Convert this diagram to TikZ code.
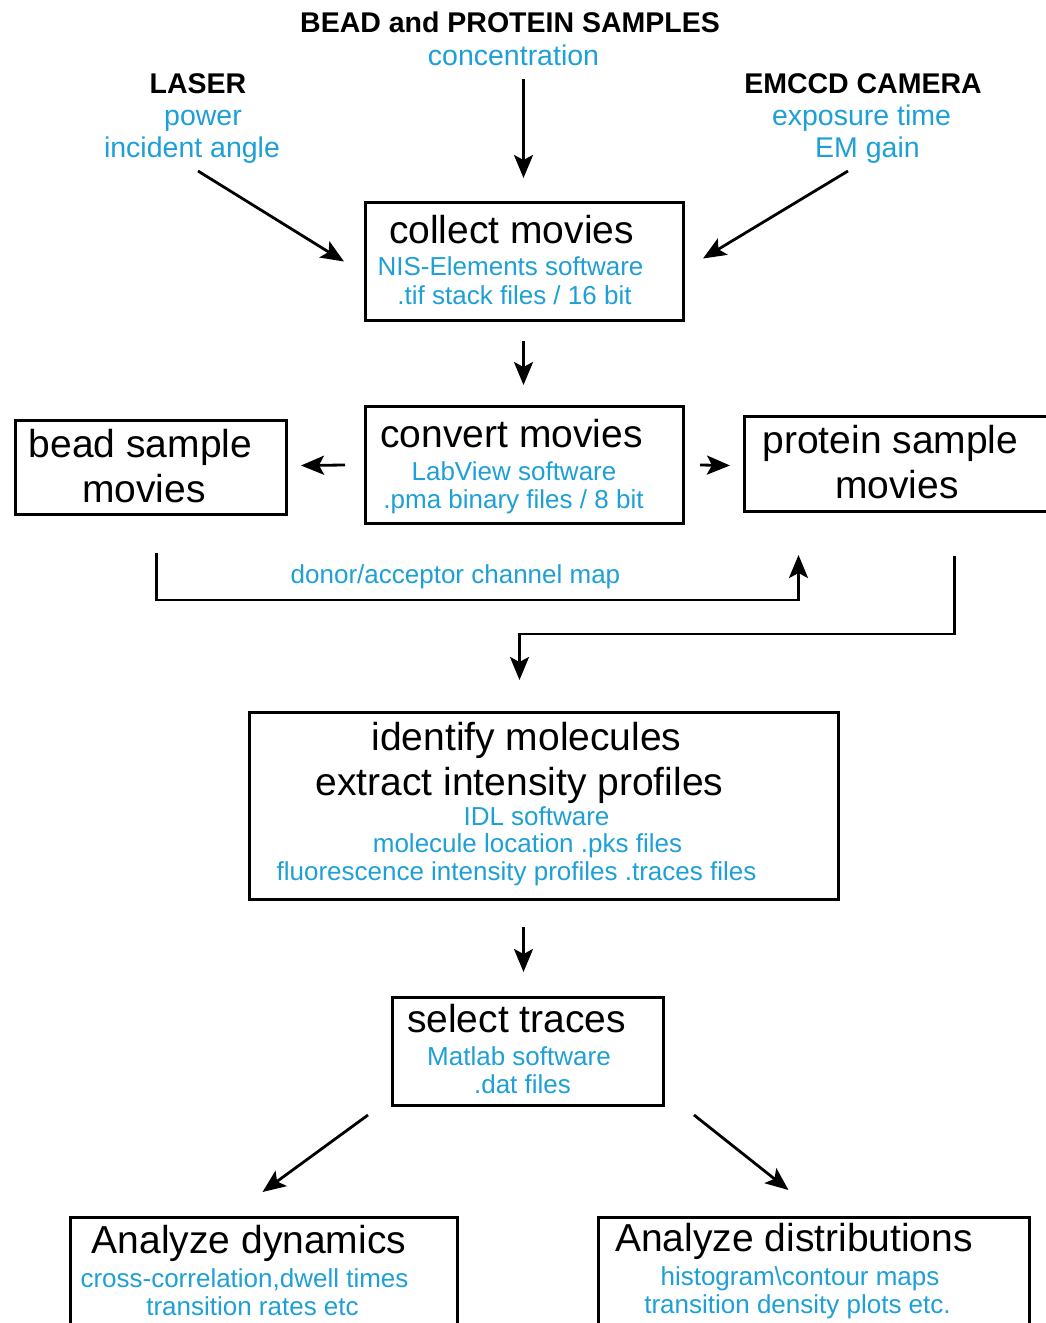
\documentclass[tikz,border=0pt]{standalone}
\usepackage{fontspec}
\setmainfont{Liberation Sans}
\usetikzlibrary{arrows.meta,calc}
\definecolor{cyanblue}{RGB}{30,160,215}
\begin{document}
\begin{tikzpicture}[x=1pt,y=-1pt,
  box/.style={draw, line width=3pt, anchor=north west, inner sep=0pt},
  lbl/.style={anchor=base, inner sep=0pt},
  big/.style={lbl, font=\fontsize{39}{39}\selectfont},
  small/.style={lbl, text=cyanblue, font=\fontsize{26}{26}\selectfont},
  topb/.style={lbl, text=cyanblue, font=\fontsize{28.5}{28.5}\selectfont},
  head/.style={lbl, font=\fontsize{28.5}{28.5}\selectfont\bfseries},
  arr/.style={line width=2.8pt, -{Stealth[length=23pt,width=19pt,inset=5pt]}},
  link/.style={line width=2.8pt}]
\useasboundingbox (0,0) rectangle (1046,1323);
\fill[white] (0,0) rectangle (1046,1323);
\clip (0,0) rectangle (1046,1323);

% boxes
\node[box, minimum width=318, minimum height=118] (cm) at (364,201) {};
\node[box, minimum width=318, minimum height=117] (cv) at (364,405) {};
\node[box, minimum width=271, minimum height=94] (bead) at (14,419) {};
\node[box, minimum width=330, minimum height=95] (prot) at (743,415) {};
\node[box, minimum width=589, minimum height=187] (id) at (248,711) {};
\node[box, minimum width=271, minimum height=108] (sel) at (391,996) {};
\node[box, minimum width=387, minimum height=140] (dyn) at (69,1216) {};
\node[box, minimum width=431, minimum height=140] (dist) at (597,1216) {};

% top labels
\node[head] (beadprot) at (510,32) {BEAD and PROTEIN SAMPLES};
\node[topb] (conc) at (513.5,65) {concentration};
\node[head] (laser) at (198,93) {LASER};
\node[topb] (power) at (203,125) {power};
\node[topb] (angle) at (192,157) {incident angle};
\node[head] (camera) at (863,93) {EMCCD CAMERA};
\node[topb] (expo) at (861.5,125) {exposure time};
\node[topb] (emgain) at (867.5,157) {EM gain};

% collect movies
\node[big] (cmt) at (511.5,243) {collect movies};
\node[small] (cm1) at (510.5,275) {NIS-Elements software};
\node[small] (cm2) at (514.5,304) {.tif stack files / 16 bit};

% convert movies
\node[big] (cvt) at (511.5,447) {convert movies};
\node[small] (cv1) at (514,480) {LabView software};
\node[small] (cv2) at (513.5,508) {.pma binary files / 8 bit};

% bead / protein
\node[big] (bead1) at (140.5,457) {bead sample};
\node[big] (bead2) at (144,502) {movies};
\node[big] (prot1) at (890.5,453) {protein sample};
\node[big] (prot2) at (897,498) {movies};

\node[small] (map) at (455.5,583) {donor/acceptor channel map};

% identify
\node[big] (id1) at (526.5,750) {identify molecules};
\node[big] (id2) at (519.5,795) {extract intensity profiles};
\node[small] (id3) at (536.5,825) {IDL software};
\node[small] (id4) at (527.5,852) {molecule location .pks files};
\node[small] (id5) at (516.5,880) {fluorescence intensity profiles .traces files};

% select
\node[big] (sel1) at (516.5,1032) {select traces};
\node[small] (sel2) at (519,1065) {Matlab software};
\node[small] (sel3) at (522.5,1093) {.dat files};

% analyze
\node[big] (dyn1) at (249,1253) {Analyze dynamics};
\node[small] (dyn2) at (244.5,1287) {cross-correlation,dwell times};
\node[small] (dyn3) at (252.5,1315) {transition rates etc};
\node[big] (dist1) at (794,1251) {Analyze distributions};
\node[small] (dist2) at (800,1285) {histogram\textbackslash contour maps};
\node[small] (dist3) at (797.5,1313) {transition density plots etc.};

% connectors
\draw[arr] ($(cm.north)+(-1,-122)$) -- ($(cm.north)+(-1,-23)$);
\draw[arr] ($(angle.base)+(6,14)$) -- ($(cm.west)+(-20,0)$);
\draw[arr] ($(emgain.base)+(-19.5,14)$) -- ($(cm.east)+(18,-3)$);
\draw[arr] ($(cm.south)+(-1,19)$) -- ($(cv.north)+(-1,-20)$);
\draw[arr] ($(cv.west)+(-19,0)$) -- ($(bead.east)+(13,-2)$);
\draw[arr] ($(cv.east)+(15,0)$) -- ($(prot.west)+(-13,1.5)$);
\draw[arr] ($(bead.south)+(5.5,37)$) -- ++(0,47) -| ($(prot.south)+(-111,42)$);
\draw[arr] ($(prot.south)+(45,43)$) -- ++(0,78) -| ($(id.north)+(-24.5,-31)$);
\draw[arr] ($(id.south)+(-20.5,26)$) -- ($(sel.north)+(-4.5,-24)$);
\draw[arr] ($(sel.south west)+(-23,8)$) -- ($(dyn.north)+(-1.5,-24)$);
\draw[arr] ($(sel.south east)+(29,8)$) -- ($(dist.north)+(-25.5,-26)$);
\end{tikzpicture}
\end{document}
